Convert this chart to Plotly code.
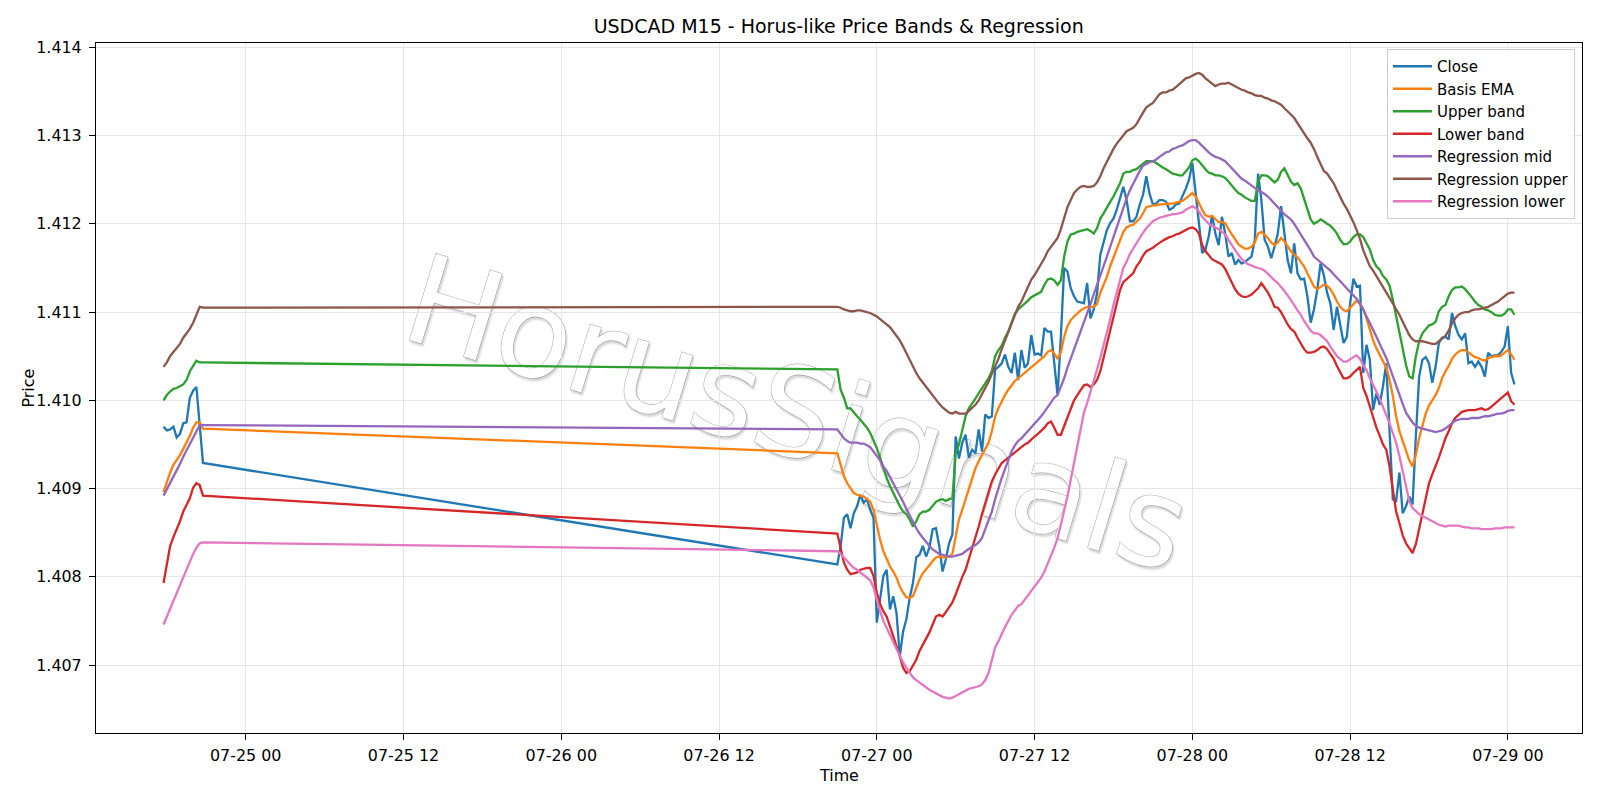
import pandas as pd
import plotly.graph_objects as go

# ---------------- time index (M15 bars, weekend gap) ----------------
fri_times = pd.date_range("2026-07-24 17:45", periods=13, freq="15min")
sun_times = pd.date_range("2026-07-26 21:00", periods=207, freq="15min")
times = list(fri_times) + list(sun_times)

# ---------------- series values ----------------
close_fri = [1.40970, 1.40966, 1.40967, 1.40970, 1.40958, 1.40962, 1.40974, 1.40975, 1.41003, 1.41011, 1.41015, 1.40972, 1.40929]
close_sun = [
    1.40814, 1.40835, 1.40867, 1.40871, 1.40855, 1.40872, 1.40880, 1.40893, 1.40884, 1.40888,
    1.40876, 1.40867, 1.40748, 1.40774, 1.40801, 1.40808, 1.40763, 1.40778, 1.40759, 1.40710,
    1.40738, 1.40752, 1.40776, 1.40793, 1.40822, 1.40825, 1.40835, 1.40823, 1.40833, 1.40854,
    1.40855, 1.40835, 1.40806, 1.40820, 1.40838, 1.40848, 1.40959, 1.40934, 1.40952, 1.40961,
    1.40935, 1.40944, 1.40940, 1.40967, 1.40942, 1.40984, 1.40980, 1.40982, 1.41035, 1.41038,
    1.41042, 1.41052, 1.41038, 1.41031, 1.41054, 1.41023, 1.41057, 1.41037, 1.41042, 1.41074,
    1.41052, 1.41053, 1.41051, 1.41082, 1.41078, 1.41078, 1.41042, 1.41006, 1.41072, 1.41150,
    1.41146, 1.41127, 1.41118, 1.41112, 1.41111, 1.41110, 1.41133, 1.41093, 1.41103, 1.41121,
    1.41165, 1.41180, 1.41193, 1.41201, 1.41206, 1.41216, 1.41229, 1.41242, 1.41227, 1.41203,
    1.41203, 1.41208, 1.41222, 1.41233, 1.41254, 1.41234, 1.41222, 1.41223, 1.41227, 1.41227,
    1.41225, 1.41216, 1.41218, 1.41222, 1.41223, 1.41231, 1.41240, 1.41250, 1.41269, 1.41235,
    1.41197, 1.41167, 1.41171, 1.41186, 1.41210, 1.41189, 1.41176, 1.41208, 1.41189, 1.41163,
    1.41167, 1.41154, 1.41159, 1.41155, 1.41157, 1.41160, 1.41163, 1.41182, 1.41257, 1.41227,
    1.41182, 1.41174, 1.41161, 1.41174, 1.41189, 1.41220, 1.41186, 1.41159, 1.41144, 1.41178,
    1.41144, 1.41137, 1.41138, 1.41118, 1.41088, 1.41103, 1.41125, 1.41155, 1.41142, 1.41122,
    1.41110, 1.41080, 1.41106, 1.41086, 1.41065, 1.41072, 1.41110, 1.41138, 1.41129, 1.41130,
    1.41031, 1.41063, 1.41046, 1.40989, 1.41008, 1.40995, 1.41016, 1.41042, 1.40959, 1.40888,
    1.40886, 1.40918, 1.40872, 1.40880, 1.40891, 1.40882, 1.40959, 1.41027, 1.41046, 1.41049,
    1.41042, 1.41020, 1.41038, 1.41065, 1.41071, 1.41072, 1.41069, 1.41099, 1.41084, 1.41074,
    1.41069, 1.41076, 1.41042, 1.41044, 1.41038, 1.41044, 1.41038, 1.41027, 1.41054, 1.41050,
    1.41051, 1.41051, 1.41055, 1.41061, 1.41084, 1.41031, 1.41018]

ema_fri = [1.40896, 1.40908, 1.40918, 1.40927, 1.40932, 1.40938, 1.40945, 1.40952, 1.40960, 1.40969, 1.40975, 1.40975, 1.40968]
ema_sun = [
    1.40940, 1.40927, 1.40914, 1.40906, 1.40900, 1.40895, 1.40893, 1.40892, 1.40891, 1.40888,
    1.40885, 1.40876, 1.40857, 1.40842, 1.40829, 1.40820, 1.40812, 1.40806, 1.40799, 1.40789,
    1.40782, 1.40777, 1.40776, 1.40778, 1.40788, 1.40797, 1.40804, 1.40808, 1.40813, 1.40818,
    1.40822, 1.40823, 1.40822, 1.40822, 1.40823, 1.40826, 1.40846, 1.40865, 1.40876, 1.40888,
    1.40901, 1.40912, 1.40923, 1.40931, 1.40938, 1.40946, 1.40952, 1.40965, 1.40982, 1.40991,
    1.40999, 1.41006, 1.41012, 1.41017, 1.41022, 1.41025, 1.41028, 1.41031, 1.41034, 1.41038,
    1.41041, 1.41044, 1.41046, 1.41050, 1.41055, 1.41057, 1.41053, 1.41047, 1.41054, 1.41072,
    1.41084, 1.41091, 1.41095, 1.41099, 1.41102, 1.41104, 1.41106, 1.41106, 1.41106, 1.41109,
    1.41122, 1.41131, 1.41140, 1.41152, 1.41162, 1.41172, 1.41182, 1.41191, 1.41196, 1.41198,
    1.41199, 1.41202, 1.41206, 1.41212, 1.41219, 1.41220, 1.41221, 1.41221, 1.41222, 1.41222,
    1.41223, 1.41223, 1.41223, 1.41224, 1.41225, 1.41226, 1.41229, 1.41232, 1.41235, 1.41231,
    1.41223, 1.41216, 1.41210, 1.41208, 1.41209, 1.41205, 1.41202, 1.41202, 1.41201, 1.41194,
    1.41188, 1.41182, 1.41177, 1.41174, 1.41172, 1.41172, 1.41174, 1.41179, 1.41189, 1.41191,
    1.41188, 1.41184, 1.41179, 1.41176, 1.41179, 1.41184, 1.41180, 1.41174, 1.41169, 1.41165,
    1.41162, 1.41157, 1.41152, 1.41144, 1.41137, 1.41129, 1.41126, 1.41129, 1.41131, 1.41130,
    1.41126, 1.41120, 1.41112, 1.41106, 1.41102, 1.41101, 1.41105, 1.41110, 1.41113, 1.41110,
    1.41103, 1.41093, 1.41080, 1.41068, 1.41059, 1.41052, 1.41044, 1.41037, 1.41023, 1.41005,
    1.40982, 1.40965, 1.40954, 1.40942, 1.40932, 1.40925, 1.40938, 1.40957, 1.40972, 1.40985,
    1.40994, 1.41000, 1.41006, 1.41014, 1.41025, 1.41033, 1.41039, 1.41047, 1.41052, 1.41055,
    1.41057, 1.41057, 1.41054, 1.41051, 1.41049, 1.41048, 1.41046, 1.41045, 1.41048, 1.41049,
    1.41050, 1.41050, 1.41051, 1.41054, 1.41057, 1.41052, 1.41046]

upper_fri = [1.41000, 1.41006, 1.41010, 1.41013, 1.41014, 1.41016, 1.41018, 1.41023, 1.41033, 1.41039, 1.41045, 1.41043, 1.41043]
upper_sun = [
    1.41035, 1.41012, 1.41003, 1.40991, 1.40991, 1.40986, 1.40982, 1.40978, 1.40974, 1.40969,
    1.40963, 1.40955, 1.40946, 1.40935, 1.40923, 1.40912, 1.40903, 1.40895, 1.40888, 1.40880,
    1.40874, 1.40871, 1.40865, 1.40857, 1.40863, 1.40871, 1.40874, 1.40874, 1.40876, 1.40880,
    1.40885, 1.40887, 1.40888, 1.40886, 1.40888, 1.40889, 1.40940, 1.40950, 1.40967, 1.40982,
    1.40991, 1.40996, 1.41002, 1.41008, 1.41014, 1.41020, 1.41025, 1.41033, 1.41050, 1.41057,
    1.41062, 1.41071, 1.41078, 1.41088, 1.41098, 1.41103, 1.41106, 1.41109, 1.41113, 1.41117,
    1.41119, 1.41121, 1.41123, 1.41131, 1.41137, 1.41138, 1.41136, 1.41131, 1.41136, 1.41163,
    1.41180, 1.41188, 1.41189, 1.41191, 1.41192, 1.41193, 1.41194, 1.41192, 1.41189, 1.41195,
    1.41206, 1.41212, 1.41219, 1.41225, 1.41231, 1.41238, 1.41246, 1.41257, 1.41259, 1.41259,
    1.41261, 1.41262, 1.41265, 1.41269, 1.41271, 1.41271, 1.41271, 1.41269, 1.41266, 1.41264,
    1.41262, 1.41259, 1.41257, 1.41256, 1.41255, 1.41255, 1.41259, 1.41264, 1.41272, 1.41274,
    1.41271, 1.41266, 1.41262, 1.41258, 1.41257, 1.41255, 1.41255, 1.41254, 1.41252, 1.41248,
    1.41243, 1.41239, 1.41235, 1.41233, 1.41230, 1.41228, 1.41226, 1.41226, 1.41248, 1.41255,
    1.41255, 1.41254, 1.41251, 1.41247, 1.41250, 1.41259, 1.41263, 1.41255, 1.41248, 1.41244,
    1.41246, 1.41240, 1.41229, 1.41218, 1.41205, 1.41200, 1.41202, 1.41205, 1.41203, 1.41200,
    1.41198, 1.41194, 1.41189, 1.41182, 1.41177, 1.41177, 1.41180, 1.41185, 1.41188, 1.41188,
    1.41185, 1.41178, 1.41171, 1.41159, 1.41152, 1.41148, 1.41141, 1.41137, 1.41130, 1.41114,
    1.41095, 1.41076, 1.41057, 1.41040, 1.41027, 1.41025, 1.41050, 1.41067, 1.41076, 1.41081,
    1.41085, 1.41086, 1.41089, 1.41101, 1.41106, 1.41108, 1.41118, 1.41125, 1.41128, 1.41128,
    1.41129, 1.41126, 1.41122, 1.41117, 1.41112, 1.41108, 1.41106, 1.41103, 1.41102, 1.41100,
    1.41097, 1.41096, 1.41096, 1.41098, 1.41103, 1.41103, 1.41097]

lower_fri = [1.40793, 1.40816, 1.40835, 1.40845, 1.40853, 1.40863, 1.40874, 1.40882, 1.40889, 1.40901, 1.40906, 1.40904, 1.40892]
lower_sun = [
    1.40849, 1.40833, 1.40816, 1.40808, 1.40803, 1.40804, 1.40805, 1.40808, 1.40809, 1.40810,
    1.40810, 1.40801, 1.40782, 1.40769, 1.40761, 1.40755, 1.40744, 1.40733, 1.40723, 1.40710,
    1.40697, 1.40691, 1.40693, 1.40699, 1.40706, 1.40716, 1.40723, 1.40731, 1.40737, 1.40746,
    1.40755, 1.40757, 1.40755, 1.40760, 1.40765, 1.40771, 1.40780, 1.40791, 1.40800, 1.40808,
    1.40820, 1.40831, 1.40844, 1.40857, 1.40871, 1.40884, 1.40897, 1.40908, 1.40916, 1.40923,
    1.40929, 1.40932, 1.40935, 1.40938, 1.40942, 1.40945, 1.40947, 1.40950, 1.40952, 1.40956,
    1.40959, 1.40962, 1.40965, 1.40969, 1.40974, 1.40976, 1.40969, 1.40961, 1.40961, 1.40971,
    1.40982, 1.40991, 1.41000, 1.41006, 1.41012, 1.41017, 1.41018, 1.41015, 1.41018, 1.41023,
    1.41033, 1.41048, 1.41063, 1.41078, 1.41093, 1.41110, 1.41125, 1.41134, 1.41137, 1.41140,
    1.41144, 1.41152, 1.41157, 1.41164, 1.41169, 1.41171, 1.41173, 1.41176, 1.41179, 1.41181,
    1.41183, 1.41185, 1.41186, 1.41188, 1.41189, 1.41191, 1.41193, 1.41195, 1.41196, 1.41194,
    1.41189, 1.41176, 1.41169, 1.41164, 1.41160, 1.41158, 1.41156, 1.41154, 1.41149, 1.41141,
    1.41134, 1.41126, 1.41121, 1.41118, 1.41117, 1.41118, 1.41120, 1.41123, 1.41127, 1.41133,
    1.41128, 1.41122, 1.41115, 1.41106, 1.41105, 1.41100, 1.41093, 1.41086, 1.41081, 1.41078,
    1.41071, 1.41064, 1.41058, 1.41054, 1.41054, 1.41055, 1.41057, 1.41060, 1.41061, 1.41058,
    1.41053, 1.41047, 1.41039, 1.41031, 1.41025, 1.41025, 1.41027, 1.41031, 1.41035, 1.41038,
    1.41014, 1.41005, 1.40993, 1.40980, 1.40969, 1.40960, 1.40950, 1.40944, 1.40925, 1.40899,
    1.40874, 1.40861, 1.40847, 1.40838, 1.40833, 1.40827, 1.40837, 1.40855, 1.40872, 1.40889,
    1.40906, 1.40916, 1.40925, 1.40935, 1.40946, 1.40957, 1.40965, 1.40974, 1.40980, 1.40984,
    1.40987, 1.40988, 1.40989, 1.40989, 1.40989, 1.40990, 1.40991, 1.40989, 1.40990, 1.40993,
    1.40996, 1.40999, 1.41003, 1.41005, 1.41009, 1.40999, 1.40995]

regmid_fri = [1.40892, 1.40899, 1.40907, 1.40914, 1.40921, 1.40928, 1.40936, 1.40943, 1.40950, 1.40957, 1.40965, 1.40972, 1.40972]
regmid_sun = [
    1.40967, 1.40962, 1.40957, 1.40954, 1.40952, 1.40952, 1.40952, 1.40951, 1.40951, 1.40949,
    1.40947, 1.40942, 1.40937, 1.40932, 1.40925, 1.40920, 1.40913, 1.40906, 1.40900, 1.40892,
    1.40885, 1.40877, 1.40869, 1.40862, 1.40855, 1.40849, 1.40844, 1.40839, 1.40835, 1.40831,
    1.40828, 1.40826, 1.40825, 1.40824, 1.40823, 1.40823, 1.40824, 1.40825, 1.40826, 1.40829,
    1.40832, 1.40834, 1.40836, 1.40839, 1.40844, 1.40854, 1.40865, 1.40874, 1.40888, 1.40901,
    1.40912, 1.40922, 1.40933, 1.40942, 1.40949, 1.40954, 1.40957, 1.40961, 1.40965, 1.40969,
    1.40974, 1.40977, 1.40982, 1.40987, 1.40992, 1.40998, 1.41003, 1.41006, 1.41015, 1.41025,
    1.41037, 1.41047, 1.41057, 1.41068, 1.41078, 1.41088, 1.41099, 1.41109, 1.41120, 1.41130,
    1.41140, 1.41152, 1.41163, 1.41174, 1.41185, 1.41196, 1.41208, 1.41220, 1.41229, 1.41238,
    1.41246, 1.41254, 1.41260, 1.41266, 1.41268, 1.41270, 1.41271, 1.41273, 1.41276, 1.41279,
    1.41281, 1.41282, 1.41285, 1.41286, 1.41288, 1.41289, 1.41292, 1.41294, 1.41295, 1.41295,
    1.41292, 1.41288, 1.41285, 1.41281, 1.41278, 1.41276, 1.41275, 1.41273, 1.41271, 1.41267,
    1.41263, 1.41258, 1.41254, 1.41251, 1.41249, 1.41246, 1.41244, 1.41241, 1.41238, 1.41236,
    1.41234, 1.41231, 1.41227, 1.41223, 1.41218, 1.41214, 1.41211, 1.41208, 1.41205, 1.41200,
    1.41194, 1.41189, 1.41183, 1.41176, 1.41170, 1.41163, 1.41160, 1.41156, 1.41153, 1.41150,
    1.41147, 1.41143, 1.41139, 1.41135, 1.41131, 1.41128, 1.41124, 1.41120, 1.41115, 1.41109,
    1.41103, 1.41095, 1.41088, 1.41080, 1.41072, 1.41064, 1.41057, 1.41048, 1.41038, 1.41027,
    1.41017, 1.41006, 1.40996, 1.40986, 1.40980, 1.40975, 1.40971, 1.40969, 1.40968, 1.40967,
    1.40966, 1.40965, 1.40964, 1.40965, 1.40966, 1.40968, 1.40971, 1.40974, 1.40977, 1.40978,
    1.40979, 1.40979, 1.40979, 1.40980, 1.40980, 1.40980, 1.40981, 1.40982, 1.40982, 1.40983,
    1.40984, 1.40985, 1.40985, 1.40986, 1.40988, 1.40989, 1.40989]

regup_fri = [1.41038, 1.41043, 1.41050, 1.41055, 1.41059, 1.41064, 1.41071, 1.41076, 1.41081, 1.41088, 1.41097, 1.41106, 1.41105]
regup_sun = [
    1.41106, 1.41105, 1.41103, 1.41102, 1.41101, 1.41101, 1.41102, 1.41102, 1.41101, 1.41100,
    1.41099, 1.41097, 1.41095, 1.41092, 1.41089, 1.41086, 1.41083, 1.41078, 1.41073, 1.41068,
    1.41061, 1.41053, 1.41045, 1.41038, 1.41031, 1.41025, 1.41020, 1.41015, 1.41010, 1.41005,
    1.41000, 1.40996, 1.40992, 1.40989, 1.40986, 1.40985, 1.40987, 1.40985, 1.40985, 1.40985,
    1.40988, 1.40991, 1.40995, 1.41000, 1.41007, 1.41014, 1.41021, 1.41030, 1.41038, 1.41047,
    1.41058, 1.41068, 1.41078, 1.41088, 1.41097, 1.41106, 1.41112, 1.41120, 1.41129, 1.41137,
    1.41142, 1.41148, 1.41154, 1.41161, 1.41169, 1.41174, 1.41179, 1.41184, 1.41194, 1.41208,
    1.41219, 1.41227, 1.41235, 1.41239, 1.41242, 1.41243, 1.41242, 1.41242, 1.41243, 1.41247,
    1.41254, 1.41263, 1.41271, 1.41277, 1.41285, 1.41291, 1.41296, 1.41301, 1.41305, 1.41307,
    1.41309, 1.41313, 1.41320, 1.41326, 1.41332, 1.41335, 1.41337, 1.41342, 1.41347, 1.41349,
    1.41349, 1.41351, 1.41352, 1.41355, 1.41358, 1.41362, 1.41365, 1.41366, 1.41368, 1.41370,
    1.41371, 1.41369, 1.41365, 1.41362, 1.41358, 1.41356, 1.41358, 1.41359, 1.41359, 1.41360,
    1.41358, 1.41356, 1.41354, 1.41352, 1.41351, 1.41349, 1.41348, 1.41346, 1.41345, 1.41345,
    1.41343, 1.41342, 1.41340, 1.41339, 1.41337, 1.41335, 1.41331, 1.41328, 1.41324, 1.41320,
    1.41314, 1.41308, 1.41303, 1.41297, 1.41292, 1.41285, 1.41276, 1.41267, 1.41260, 1.41257,
    1.41252, 1.41246, 1.41238, 1.41230, 1.41223, 1.41217, 1.41210, 1.41202, 1.41193, 1.41183,
    1.41170, 1.41161, 1.41152, 1.41147, 1.41141, 1.41135, 1.41128, 1.41122, 1.41116, 1.41110,
    1.41103, 1.41097, 1.41089, 1.41082, 1.41074, 1.41069, 1.41067, 1.41067, 1.41067, 1.41066,
    1.41065, 1.41064, 1.41064, 1.41067, 1.41070, 1.41073, 1.41079, 1.41087, 1.41093, 1.41097,
    1.41099, 1.41100, 1.41100, 1.41102, 1.41103, 1.41103, 1.41104, 1.41105, 1.41106, 1.41108,
    1.41110, 1.41112, 1.41115, 1.41118, 1.41121, 1.41122, 1.41122]

reglow_fri = [1.40746, 1.40755, 1.40764, 1.40773, 1.40783, 1.40792, 1.40801, 1.40810, 1.40819, 1.40826, 1.40833, 1.40838, 1.40839]
reglow_sun = [
    1.40829, 1.40826, 1.40822, 1.40817, 1.40813, 1.40810, 1.40808, 1.40805, 1.40803, 1.40800,
    1.40796, 1.40788, 1.40774, 1.40761, 1.40750, 1.40741, 1.40734, 1.40726, 1.40718, 1.40711,
    1.40703, 1.40697, 1.40691, 1.40686, 1.40683, 1.40680, 1.40677, 1.40675, 1.40672, 1.40670,
    1.40668, 1.40666, 1.40664, 1.40663, 1.40662, 1.40663, 1.40665, 1.40667, 1.40669, 1.40671,
    1.40673, 1.40674, 1.40675, 1.40676, 1.40678, 1.40683, 1.40691, 1.40706, 1.40720, 1.40727,
    1.40736, 1.40743, 1.40750, 1.40757, 1.40762, 1.40767, 1.40769, 1.40774, 1.40778, 1.40783,
    1.40788, 1.40793, 1.40799, 1.40806, 1.40816, 1.40824, 1.40833, 1.40844, 1.40859, 1.40874,
    1.40891, 1.40910, 1.40929, 1.40952, 1.40971, 1.40986, 1.40997, 1.41009, 1.41022, 1.41035,
    1.41048, 1.41062, 1.41076, 1.41092, 1.41108, 1.41123, 1.41137, 1.41150, 1.41157, 1.41166,
    1.41172, 1.41178, 1.41185, 1.41190, 1.41195, 1.41199, 1.41203, 1.41205, 1.41207, 1.41208,
    1.41209, 1.41210, 1.41211, 1.41211, 1.41212, 1.41213, 1.41216, 1.41218, 1.41220, 1.41218,
    1.41214, 1.41208, 1.41204, 1.41200, 1.41198, 1.41196, 1.41194, 1.41191, 1.41188, 1.41182,
    1.41176, 1.41171, 1.41165, 1.41160, 1.41157, 1.41154, 1.41153, 1.41151, 1.41150, 1.41149,
    1.41147, 1.41143, 1.41139, 1.41136, 1.41133, 1.41129, 1.41124, 1.41119, 1.41114, 1.41108,
    1.41102, 1.41097, 1.41090, 1.41084, 1.41079, 1.41076, 1.41076, 1.41074, 1.41071, 1.41067,
    1.41061, 1.41055, 1.41050, 1.41047, 1.41044, 1.41044, 1.41047, 1.41049, 1.41051, 1.41047,
    1.41040, 1.41034, 1.41025, 1.41018, 1.41010, 1.41002, 1.40993, 1.40985, 1.40974, 1.40963,
    1.40952, 1.40937, 1.40920, 1.40902, 1.40886, 1.40878, 1.40874, 1.40871, 1.40869, 1.40867,
    1.40865, 1.40863, 1.40861, 1.40859, 1.40858, 1.40857, 1.40858, 1.40858, 1.40858, 1.40858,
    1.40857, 1.40856, 1.40856, 1.40855, 1.40855, 1.40855, 1.40854, 1.40854, 1.40854, 1.40854,
    1.40855, 1.40855, 1.40855, 1.40856, 1.40856, 1.40856, 1.40856]

series_names = ["Close", "Basis EMA", "Upper band", "Lower band",
                "Regression mid", "Regression upper", "Regression lower"]
series_colors = ["#1f77b4", "#ff7f0e", "#2ca02c", "#d62728",
                 "#9467bd", "#8c564b", "#e377c2"]
series_values = [close_fri + close_sun, ema_fri + ema_sun, upper_fri + upper_sun,
                 lower_fri + lower_sun, regmid_fri + regmid_sun,
                 regup_fri + regup_sun, reglow_fri + reglow_sun]

x_range = ["2026-07-24 12:36:45", "2026-07-29 05:38:15"]
y_range = [1.40623, 1.41405]

# ---------------- figure ----------------
FONT = "DejaVu Sans"
FS = 15.9
fig = go.Figure()
for name, color, vals in zip(series_names, series_colors, series_values):
    fig.add_trace(go.Scatter(x=times, y=vals, mode="lines", name=name,
                             line=dict(color=color, width=2.3)))

L, R, T, B = 96, 18, 43, 67
W, H = 1600, 800
pw, ph = W - L - R, H - T - B
wm_x = (800 - L) / pw
wm_y = (H - B - 405) / ph

fig.add_shape(type="rect", xref="paper", yref="paper",
              x0=wm_x - 0.004, x1=wm_x + 0.004, y0=wm_y - 0.004, y1=wm_y + 0.004,
              line=dict(width=0), fillcolor="rgba(0,0,0,0)", layer="below",
              label=dict(text="HorusSignals", textangle=17, textposition="middle center",
                         font=dict(family=FONT, size=124, color="white")))

# axis titles placed where the reference has them
fig.add_annotation(text="Price", xref="paper", yref="paper",
                   x=(27.5 - L) / pw, y=0.5, xanchor="center", yanchor="middle",
                   textangle=-90, showarrow=False,
                   font=dict(family=FONT, size=FS, color="black"))
fig.add_annotation(text="Time", xref="paper", yref="paper",
                   x=0.5, y=-(775 - (H - B)) / ph, xanchor="center", yanchor="middle",
                   showarrow=False,
                   font=dict(family=FONT, size=FS, color="black"))

fig.update_layout(
    width=W, height=H,
    margin=dict(l=L, r=R, t=T, b=B, autoexpand=False),
    paper_bgcolor="white", plot_bgcolor="white",
    font=dict(family=FONT, size=FS, color="black"),
    title=dict(text="USDCAD M15 - Horus-like Price Bands & Regression",
               x=(838.7 - L) / pw, xref="paper", xanchor="center",
               y=1 - 26.5 / H, yref="container", yanchor="middle",
               font=dict(family=FONT, size=19, color="black")),
    legend=dict(x=(1575 - L) / pw, y=(H - B - 49) / ph, xanchor="right", yanchor="top",
                bgcolor="rgba(255,255,255,0.85)", bordercolor="#cccccc", borderwidth=1,
                itemwidth=39,
                font=dict(family=FONT, size=15, color="black")),
    showlegend=True,
)
fig.update_xaxes(type="date", range=x_range, tickformat="%m-%d %H",
                 dtick=43200000, tick0="2026-07-25 00:00",
                 showgrid=True, gridcolor="#e6e6e6", gridwidth=1, zeroline=False,
                 showline=True, linecolor="black", linewidth=1.2, mirror=True,
                 ticks="outside", ticklen=6, tickwidth=1.2, tickcolor="black",
                 ticklabelstandoff=2,
                 tickfont=dict(family=FONT, size=FS, color="black"))
fig.update_yaxes(range=y_range, dtick=0.001, tick0=1.407, tickformat=".3f",
                 showgrid=True, gridcolor="#e6e6e6", gridwidth=1, zeroline=False,
                 showline=True, linecolor="black", linewidth=1.2, mirror=True,
                 ticks="outside", ticklen=6, tickwidth=1.2, tickcolor="black",
                 ticklabelstandoff=4,
                 tickfont=dict(family=FONT, size=FS, color="black"))

post_js = """
function styleWM(){
  var gd = document.getElementById('{plot_id}');
  if(!gd) return;
  var ts = gd.querySelectorAll('text');
  ts.forEach(function(t){
    if(t.textContent === 'HorusSignals'){
      t.style.fill = 'rgb(255,255,255)';
      t.style.stroke = '#b0b0b0';
      t.style.strokeWidth = '1.2px';
      t.style.paintOrder = 'stroke';
      t.style.textShadow = '2px 2px 2px rgba(0,0,0,0.13)';
    }
  });
}
styleWM();
var gdw = document.getElementById('{plot_id}');
if(gdw && gdw.on){ gdw.on('plotly_afterplot', styleWM); }
"""

fig.write_html("out.html", post_script=post_js)
